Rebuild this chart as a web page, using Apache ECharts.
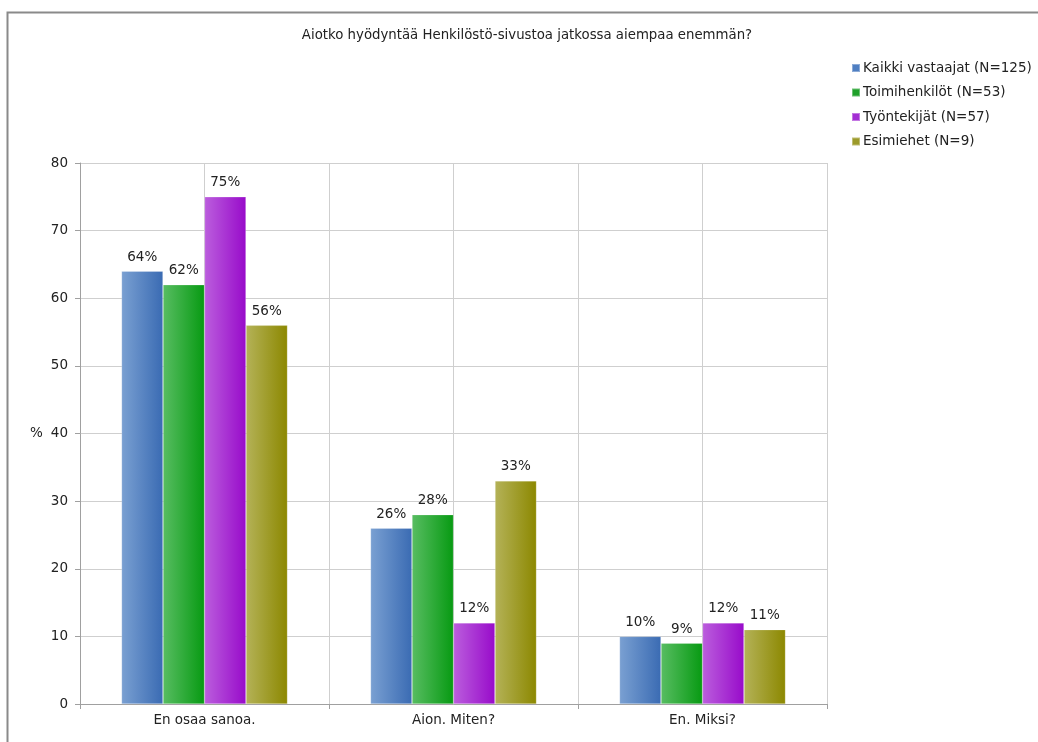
<!DOCTYPE html>
<html>
<head>
<meta charset="utf-8">
<script src="https://cdn.jsdelivr.net/npm/echarts@6/dist/echarts.min.js"></script>
<style>
  html, body { margin: 0; padding: 0; background: #fff; }
  #chart { width: 1038px; height: 742px; }
</style>
</head>
<body>
<div id="chart"></div>
<script>
// Survey answers per respondent group (percent)
const categories = ['En osaa sanoa.', 'Aion. Miten?', 'En. Miksi?'];
const seriesNames = ['Kaikki vastaajat (N=125)', 'Toimihenkilöt (N=53)', 'Työntekijät (N=57)', 'Esimiehet (N=9)'];
const allRespondents = [64, 26, 10];
const officeStaff = [62, 28, 9];
const workers = [75, 12, 12];
const supervisors = [56, 33, 11];
const yTicks = [0, 10, 20, 30, 40, 50, 60, 70, 80];

const values = [allRespondents, officeStaff, workers, supervisors];
const palette = [
  ['#7aa0d2', '#3a6bb3'],
  ['#58bd62', '#079a12'],
  ['#bb5edd', '#980bca'],
  ['#b4b258', '#8c8800']
];
const legendColors = ['#4f7fc2', '#1fa02a', '#a32ed3', '#9c9a2a'];
const font = 'DejaVu Sans, Verdana, sans-serif';

// light on the left, darker towards the right edge of each bar
function grad(c) {
  return new echarts.graphic.LinearGradient(0, 0, 1, 0, [
    { offset: 0, color: c[0] },
    { offset: 1, color: c[1] }
  ]);
}

const chart = echarts.init(document.getElementById('chart'));
chart.setOption({
  animation: false,
  backgroundColor: '#ffffff',
  textStyle: { fontFamily: font },
  title: {
    text: 'Aiotko hyödyntää Henkilöstö-sivustoa jatkossa aiempaa enemmän?',
    left: 522, top: 24, textAlign: 'center',
    textStyle: { fontFamily: font, fontSize: 13.3, fontWeight: 'normal', color: '#222' }
  },
  legend: {
    orient: 'vertical', left: 846, top: 56,
    itemWidth: 8, itemHeight: 8, itemGap: 10.5, icon: 'rect',
    textStyle: { fontFamily: font, fontSize: 13.5, color: '#222', padding: [0, 0, 0, -2] },
    data: seriesNames.map((n, i) => ({ name: n, itemStyle: { color: legendColors[i] } }))
  },
  graphic: [{
    type: 'rect', left: 5, top: 10, silent: true,
    shape: { width: 1100, height: 800 },
    style: { fill: 'none', stroke: '#8a8a8a', lineWidth: 2 }
  }, {
    type: 'text', left: 30, top: 426,
    style: { text: '%', font: '13.5px ' + font, fill: '#222' }
  }],
  grid: { left: 80, right: 211, top: 163, bottom: 38, containLabel: false },
  xAxis: [{
    type: 'category', data: categories,
    axisLine: { lineStyle: { color: '#a0a0a0' } },
    axisTick: { show: true, length: 5, lineStyle: { color: '#a0a0a0' } },
    axisLabel: { color: '#222', fontSize: 13.5, fontFamily: font, margin: 9 },
    splitLine: { show: true, lineStyle: { color: '#cfcfcf' } }
  }, {
    type: 'category', data: ['a', 'b', 'c', 'd', 'e', 'f'], position: 'bottom',
    axisLine: { show: false }, axisTick: { show: false }, axisLabel: { show: false },
    splitLine: { show: true, interval: 0, lineStyle: { color: '#cfcfcf' } }
  }],
  yAxis: {
    type: 'value', min: 0, max: 80, interval: 10,
    axisLine: { show: true, lineStyle: { color: '#a0a0a0' } },
    axisTick: { show: true, length: 5, lineStyle: { color: '#a0a0a0' } },
    axisLabel: {
      color: '#222', fontSize: 13.5, fontFamily: font, margin: 12,
      formatter: v => (yTicks.includes(v) ? String(v) : '')
    },
    splitLine: { lineStyle: { color: '#cfcfcf' } }
  },
  series: values.map((vals, i) => ({
    name: seriesNames[i], type: 'bar', xAxisIndex: 0,
    data: vals, barWidth: 41.5, barGap: '0%',
    itemStyle: { color: grad(palette[i]), borderColor: 'rgba(255,255,255,0.35)', borderWidth: 0.6 },
    label: {
      show: true, position: 'top', distance: 7,
      formatter: p => p.value + '%',
      color: '#222', fontSize: 13.5, fontFamily: font
    }
  }))
});
</script>
</body>
</html>
